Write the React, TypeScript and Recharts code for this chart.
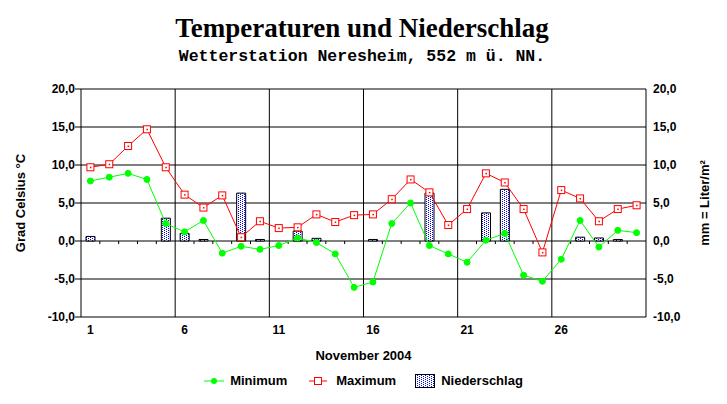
import React from 'react';
import { ComposedChart, Bar, Line, XAxis, YAxis, CartesianGrid, ReferenceLine, Legend, Label } from 'recharts';

// Tage im November 2004
const days = [1, 2, 3, 4, 5, 6, 7, 8, 9, 10, 11, 12, 13, 14, 15, 16, 17, 18, 19, 20, 21, 22, 23, 24, 25, 26, 27, 28, 29, 30];

// Temperaturen in °C
const minimum = [7.9, 8.4, 8.9, 8.1, 2.3, 1.2, 2.7, -1.6, -0.7, -1.1, -0.6, 0.4, -0.2, -1.7, -6.1, -5.4, 2.3, 5.0, -0.6, -1.7, -2.8, 0.1, 1.0, -4.5, -5.3, -2.4, 2.7, -0.8, 1.4, 1.1];
const maximum = [9.7, 10.1, 12.5, 14.7, 9.7, 6.1, 4.4, 6.0, 0.5, 2.6, 1.7, 1.8, 3.5, 2.5, 3.4, 3.5, 5.5, 8.1, 6.4, 2.1, 4.2, 8.9, 7.7, 4.2, -1.5, 6.7, 5.6, 2.6, 4.2, 4.7];

// Niederschlag in mm (null = kein Niederschlag)
const niederschlag = [0.6, null, null, null, 3.0, 1.0, 0.2, null, 6.3, 0.2, null, 1.3, 0.35, null, null, 0.2, null, null, 6.3, null, null, 3.7, 6.8, null, null, null, 0.5, 0.4, 0.2, null];

const xTicks = [1, 6, 11, 16, 21, 26];
const yTicks = [-10, -5, 0, 5, 10, 15, 20];
const gridDays = [5.5, 10.5, 15.5, 20.5, 25.5];
const minorTicks = [1.5, 2.5, 3.5, 4.5, 6.5, 7.5, 8.5, 9.5, 11.5, 12.5, 13.5, 14.5, 16.5, 17.5, 18.5, 19.5, 21.5, 22.5, 23.5, 24.5, 26.5, 27.5, 28.5, 29.5];

const data = days.map((day, i) => ({
  day,
  minimum: minimum[i],
  maximum: maximum[i],
  niederschlag: niederschlag[i],
}));

const FONT = '"Liberation Sans", Arial, sans-serif';
const tickStyle = { fontFamily: FONT, fontSize: 12, fontWeight: 'bold', fill: '#000' };
const formatNum = (v: number) => v.toFixed(1).replace('.', ',');

const MaxDot = (props: any) => {
  const { cx, cy, index } = props;
  if (cx == null || cy == null) return null;
  return (
    <g key={`max-${index}`}>
      <rect x={cx - 3.5} y={cy - 3.5} width={7} height={7} fill="#fff" stroke="#ff0000" strokeWidth={1} />
      <rect x={cx - 0.5} y={cy - 0.5} width={1.5} height={1.5} fill="#ff0000" />
    </g>
  );
};

const renderLegend = () => (
  <div style={{ display: 'flex', justifyContent: 'center', alignItems: 'center', fontFamily: FONT, fontSize: 13, fontWeight: 'bold', color: '#000' }}>
    <svg width={20} height={10} style={{ marginRight: 6 }}>
      <line x1={0} y1={5} x2={20} y2={5} stroke="#00ff00" strokeWidth={1} />
      <circle cx={10} cy={5} r={3} fill="#00ff00" />
    </svg>
    <span style={{ marginRight: 22 }}>Minimum</span>
    <svg width={18} height={10} style={{ marginRight: 9 }}>
      <line x1={0} y1={5} x2={18} y2={5} stroke="#ff0000" strokeWidth={1} />
      <rect x={5.5} y={1.5} width={7} height={7} fill="#fff" stroke="#ff0000" />
    </svg>
    <span style={{ marginRight: 19 }}>Maximum</span>
    <svg width={20} height={14} style={{ marginRight: 6 }}>
      <rect x={0.5} y={0.5} width={19} height={13} fill="url(#dots)" stroke="#000" />
    </svg>
    <span>Niederschlag</span>
  </div>
);

export default function App() {
  return (
    <div style={{ position: 'absolute', left: 0, top: 0, width: 727, height: 404, background: '#fff' }}>
      <ComposedChart width={727} height={404} data={data} margin={{ top: 89, right: 0, bottom: 11, left: 0 }}>
        <defs>
          <pattern id="dots" width="4" height="2" patternUnits="userSpaceOnUse">
            <rect width="4" height="2" fill="#fff" />
            <rect x="0" y="0" width="1" height="1" fill="#0000ff" />
            <rect x="2" y="1" width="1" height="1" fill="#0000ff" />
          </pattern>
        </defs>
        <text x={362} y={37} textAnchor="middle" fontFamily='"Liberation Serif", "Times New Roman", serif' fontWeight="bold" fontSize={27}>
          Temperaturen und Niederschlag
        </text>
        <text x={362} y={61} textAnchor="middle" fontFamily='"Liberation Mono", "Courier New", monospace' fontWeight="bold" fontSize={16.5}>
          Wetterstation Neresheim, 552 m ü. NN.
        </text>
        <CartesianGrid yAxisId="left" vertical={false} stroke="#000" strokeOpacity={1} />
        <XAxis
          dataKey="day"
          type="number"
          domain={[0.5, 30.5]}
          ticks={xTicks}
          interval={0}
          axisLine={false}
          tickLine={false}
          tick={tickStyle}
          height={76}
        >
          <Label value="November 2004" position="center" style={{ fontFamily: FONT, fontSize: 13, fontWeight: 'bold', fill: '#000' }} />
        </XAxis>
        <YAxis
          yAxisId="left"
          width={81}
          domain={[-10, 20]}
          ticks={yTicks}
          interval={0}
          tickFormatter={formatNum}
          tick={tickStyle}
          axisLine={{ stroke: '#000' }}
          tickLine={{ stroke: '#000' }}
          tickSize={6}
          tickMargin={0}
        >
          <Label value="Grad Celsius °C" angle={-90} position="center" dx={-20} style={{ fontFamily: FONT, fontSize: 13, fontWeight: 'bold', fill: '#000' }} />
        </YAxis>
        <YAxis
          yAxisId="right"
          orientation="right"
          width={81}
          domain={[-10, 20]}
          ticks={yTicks}
          interval={0}
          tickFormatter={formatNum}
          tick={tickStyle}
          axisLine={{ stroke: '#000' }}
          tickLine={false}
          tickSize={6}
          tickMargin={1}
        >
          <Label value="mm = Liter/m²" angle={-90} position="center" dx={18} style={{ fontFamily: FONT, fontSize: 13, fontWeight: 'bold', fill: '#000' }} />
        </YAxis>
        {gridDays.map((d) => (
          <ReferenceLine key={`g-${d}`} yAxisId="left" x={d} stroke="#000" strokeWidth={1} />
        ))}
        {minorTicks.map((d) => (
          <ReferenceLine key={`t-${d}`} yAxisId="left" segment={[{ x: d, y: 0 }, { x: d, y: -0.4 }]} stroke="#000" strokeWidth={1} />
        ))}
        <Bar yAxisId="right" dataKey="niederschlag" name="Niederschlag" barSize={9} fill="url(#dots)" stroke="#000" strokeWidth={1} isAnimationActive={false} />
        <Line yAxisId="left" dataKey="maximum" name="Maximum" stroke="#ff0000" strokeWidth={1} dot={MaxDot} activeDot={false} isAnimationActive={false} />
        <Line yAxisId="left" dataKey="minimum" name="Minimum" stroke="#00ff00" strokeWidth={1} dot={{ r: 3, fill: '#00ff00', stroke: '#00ff00', strokeWidth: 1 }} activeDot={false} isAnimationActive={false} />
        <Legend verticalAlign="middle" align="center" layout="horizontal" wrapperStyle={{ top: 373, left: 0, width: 727 }} content={renderLegend} />
      </ComposedChart>
    </div>
  );
}
